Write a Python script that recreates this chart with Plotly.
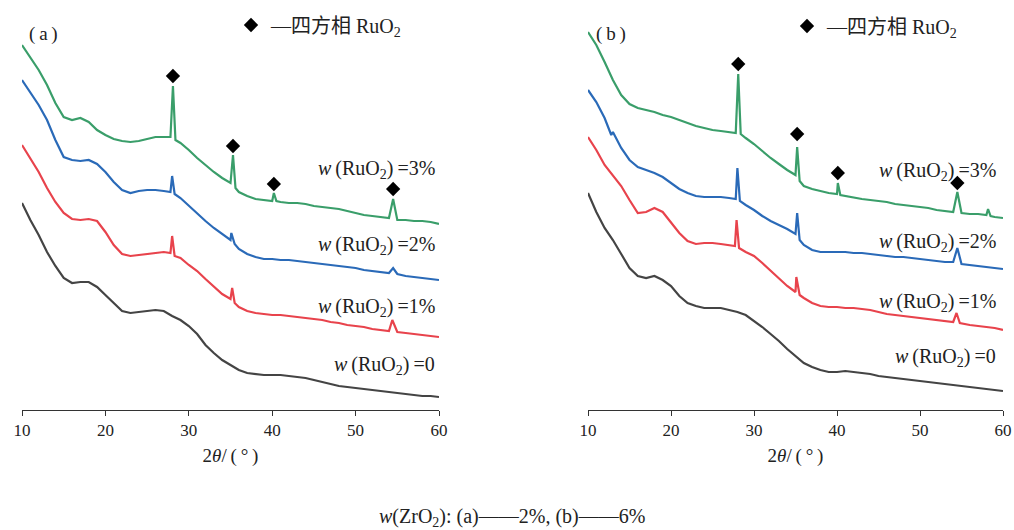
import plotly.graph_objects as go

# ---------------- data (2θ in degrees, intensity in arbitrary stacked units, larger = lower on the page) -------------
# Panel (a): w(ZrO2)=2%
a_x_g = [10,11,12,13,14,15,16,17,18,19,20,21,22,23,24,25,26,27,27.8,28.1,28.4,29,30,31,32,33,34,35,35.3,35.6,36,37,38,39,40,40.2,40.5,41,42,43,44,45,46,47,48,49,50,51,52,53,54,54.5,55,56,57,58,59,60]
a_y_g = [45,58,70,85,103,117,120,118,122,130,135,139,141,142,141,139,137,137,137,86,140,143,150,158,165,172,178,183,155,188,192,196,199,200,201,193,201,202,203,203,204,206,207,208,209,211,213,215,216,217,218,199,220,220,221,221,222,224]

a_x_b = [10,11,12,13,14,15,16,17,18,19,20,21,22,23,24,25,26,27,27.8,28.0,28.3,29,30,31,32,33,34,35,35.1,35.5,36,37,38,39,40,41,42,43,44,45,46,47,48,49,50,51,52,53,54,54.5,55,56,57,58,59,60]
a_y_b = [80,92,105,120,140,157,160,161,160,164,172,182,190,193,191,190,190,191,192,176,194,198,206,214,221,228,234,240,233,244,249,254,257,259,259,260,260,261,262,263,264,265,266,267,268,270,271,272,273,268,274,276,277,278,279,280]

a_x_r = [10,11,12,13,14,15,16,17,18,19,20,21,22,23,24,25,26,27,27.8,28.0,28.3,29,30,31,32,33,34,35,35.2,35.5,36,37,38,39,40,41,42,43,44,45,46,47,48,49,50,51,52,53,54,54.4,55,56,57,58,59,60]
a_y_r = [145,158,172,188,202,213,219,220,219,221,232,245,254,256,255,254,253,252,253,236,256,258,265,271,279,287,294,299,288,303,307,311,313,314,315,315,316,317,318,319,320,322,323,325,326,327,329,330,331,320,332,333,334,335,336,337]

a_x_k = [10,11,12,13,14,15,16,17,18,19,20,21,22,23,24,25,26,27,28,29,30,31,32,33,34,35,36,37,38,39,40,41,42,43,44,45,46,47,48,49,50,51,52,53,54,55,56,57,58,59,60]
a_y_k = [203,220,235,252,266,278,283,282,282,287,295,303,311,313,312,311,310,311,316,320,326,334,345,353,360,365,370,373,374,375,375,375,376,377,378,380,382,384,386,387,388,389,390,391,392,393,394,395,396,396,397]

# Panel (b): w(ZrO2)=6%
b_x_g = [10,11,12,13,14,15,16,17,18,19,20,21,22,23,24,25,26,27,27.8,28.1,28.4,29,30,31,32,33,34,35,35.2,35.5,36,37,38,39,40,40.1,40.4,41,42,43,44,45,46,47,48,49,50,51,52,53,54,54.5,55,56,57,58,58.2,58.5,59,60]
b_y_g = [32,45,62,80,95,104,108,110,112,115,117,120,123,126,128,130,131,132,133,74,134,138,144,151,158,164,170,175,147,181,186,189,191,193,194,183,195,196,198,199,200,201,202,204,205,206,207,208,210,211,212,192,213,214,214,215,209,216,217,218]

b_x_b = [10,11,12,12.8,13,14,15,16,17,18,19,20,21,22,23,24,25,26,27,27.8,28.0,28.3,29,30,31,32,33,34,35,35.2,35.5,36,37,38,39,40,41,42,43,44,45,46,47,48,49,50,51,52,53,54,54.5,55,56,57,58,59,60]
b_y_b = [90,102,118,135,132,148,160,167,170,173,177,183,189,193,196,197,197,197,198,199,168,201,205,210,216,221,225,229,234,213,240,245,250,252,252,252,252,253,253,254,255,256,257,257,258,259,260,261,262,262,248,264,265,266,267,268,269]

b_x_r = [10,11,12,13,14,15,16,17,18,19,20,21,22,23,24,25,26,27,27.7,27.9,28.2,29,30,31,32,33,34,35,35.1,35.5,36,37,38,39,40,41,42,43,44,45,46,47,48,49,50,51,52,53,54,54.4,54.8,56,57,58,59,60]
b_y_r = [137,150,165,176,186,200,213,212,208,212,222,233,241,244,243,243,244,245,246,220,248,252,256,263,271,279,286,292,277,295,298,303,306,307,307,308,308,309,310,312,314,315,316,317,318,319,320,321,322,313,323,325,326,327,328,330]

b_x_k = [10,11,12,13,14,15,16,17,18,19,20,21,22,23,24,25,26,27,28,29,30,31,32,33,34,35,36,37,38,39,40,41,42,43,44,45,46,47,48,49,50,51,52,53,54,55,56,57,58,59,60]
b_y_k = [193,212,228,240,254,268,276,278,276,280,286,296,303,306,308,308,308,310,312,315,321,327,334,341,349,356,363,367,370,372,372,371,372,373,374,376,377,378,379,380,381,382,383,384,385,386,387,388,389,390,391]

# RuO2 peak markers (2θ, marker level)
a_peak_x = [28.1, 35.3, 40.2, 54.5]
a_peak_y = [76, 146, 184, 189]
b_peak_x = [28.1, 35.2, 40.1, 54.5]
b_peak_y = [64, 134, 173, 183]

series_names = ["w(RuO2)=0", "w(RuO2)=1%", "w(RuO2)=2%", "w(RuO2)=3%"]
label_text = ["<i>w</i>\u2009(RuO<sub>2</sub>)\u2009=0", "<i>w</i>\u2009(RuO<sub>2</sub>)\u2009=1%",
              "<i>w</i>\u2009(RuO<sub>2</sub>)\u2009=2%", "<i>w</i>\u2009(RuO<sub>2</sub>)\u2009=3%"]
a_label_y = [365, 307, 245, 170]
b_label_y = [357, 302, 242, 172]
x_ticks = [10, 20, 30, 40, 50, 60]
phase_name = "—四方相 RuO<sub>2</sub>"

colors = ["#444444", "#e8434c", "#2a6ab8", "#3a9e6a"]

# ---------------- figure ----------------
W, H = 1014, 530
fig = go.Figure()
serif = "Liberation Serif, Times New Roman, Noto Sans CJK SC, serif"

panels = [
    ("x", "y", "legend", [(a_x_k, a_y_k), (a_x_r, a_y_r), (a_x_b, a_y_b), (a_x_g, a_y_g)], a_peak_x, a_peak_y),
    ("x2", "y2", "legend2", [(b_x_k, b_y_k), (b_x_r, b_y_r), (b_x_b, b_y_b), (b_x_g, b_y_g)], b_peak_x, b_peak_y),
]
for xa, ya, lg, curves, px, py in panels:
    for (cx, cy), col, nm in zip(curves, colors, series_names):
        fig.add_trace(go.Scatter(x=cx, y=cy, mode="lines", name=nm, showlegend=False,
                                 line=dict(color=col, width=2.2), xaxis=xa, yaxis=ya))
    fig.add_trace(go.Scatter(x=px, y=py, mode="markers", showlegend=True, name=phase_name, legend=lg,
                             marker=dict(symbol="diamond", size=11, color="black"),
                             xaxis=xa, yaxis=ya))

def px2fx(p):
    return p / W

def py2fy(p):
    return 1 - p / H

top_px, bot_px = 20, 410
yd = [py2fy(bot_px), py2fy(top_px)]

xaxis_common = dict(range=[10, 60], tickvals=x_ticks, showline=True, linecolor="#333333", linewidth=1,
                    ticks="outside", ticklen=5, tickcolor="#333333", showgrid=False, zeroline=False,
                    automargin=False,
                    tickfont=dict(family=serif, size=17, color="#222222"),
                    title=dict(text="2<i>θ</i>/\u2009(\u2009°\u2009)", font=dict(family=serif, size=19, color="#222222"), standoff=9))
yaxis_common = dict(range=[bot_px, top_px], visible=False, showgrid=False, zeroline=False, automargin=False)

legend_common = dict(yanchor="middle", xanchor="left", bgcolor="rgba(0,0,0,0)", borderwidth=0,
                     font=dict(family=serif, size=20, color="#222222"), itemsizing="trace",
                     tracegroupgap=0, itemclick=False, itemdoubleclick=False)

fig.update_layout(
    width=W, height=H, margin=dict(l=0, r=0, t=0, b=0, autoexpand=False),
    paper_bgcolor="white", plot_bgcolor="white",
    xaxis=dict(domain=[px2fx(22), px2fx(439)], anchor="y", **xaxis_common),
    xaxis2=dict(domain=[px2fx(588), px2fx(1003)], anchor="y2", **xaxis_common),
    yaxis=dict(domain=yd, anchor="x", **yaxis_common),
    yaxis2=dict(domain=yd, anchor="x2", **yaxis_common),
    legend=dict(x=px2fx(231), y=py2fy(25), **legend_common),
    legend2=dict(x=px2fx(787), y=py2fy(26), **legend_common),
)

anns = []
for ly, xr in [(a_label_y, 437), (b_label_y, 998)]:
    for t, yy in zip(label_text, ly):
        anns.append(dict(x=px2fx(xr), y=py2fy(yy), xref="paper", yref="paper", text=t, showarrow=False,
                         xanchor="right", yanchor="middle", font=dict(family=serif, size=20, color="#222222")))

# panel tags
for tag, tx, ty in [("(\u2009a\u2009)", 27, 34), ("(\u2009b\u2009)", 594, 34)]:
    anns.append(dict(x=px2fx(tx), y=py2fy(ty), xref="paper", yref="paper", text=tag, showarrow=False,
                     xanchor="left", yanchor="middle", font=dict(family=serif, size=19, color="#222222")))

anns.append(dict(x=px2fx(512), y=py2fy(517), xref="paper", yref="paper",
                 text="<i>w</i>(ZrO<sub>2</sub>): (a)——2%, (b)——6%", showarrow=False,
                 xanchor="center", yanchor="middle", font=dict(family=serif, size=20, color="#222222")))

fig.update_layout(annotations=anns)
fig.write_html("out.html", config={"displayModeBar": False},
               post_script="document.body.style.margin='0';document.body.style.overflow='hidden';")
